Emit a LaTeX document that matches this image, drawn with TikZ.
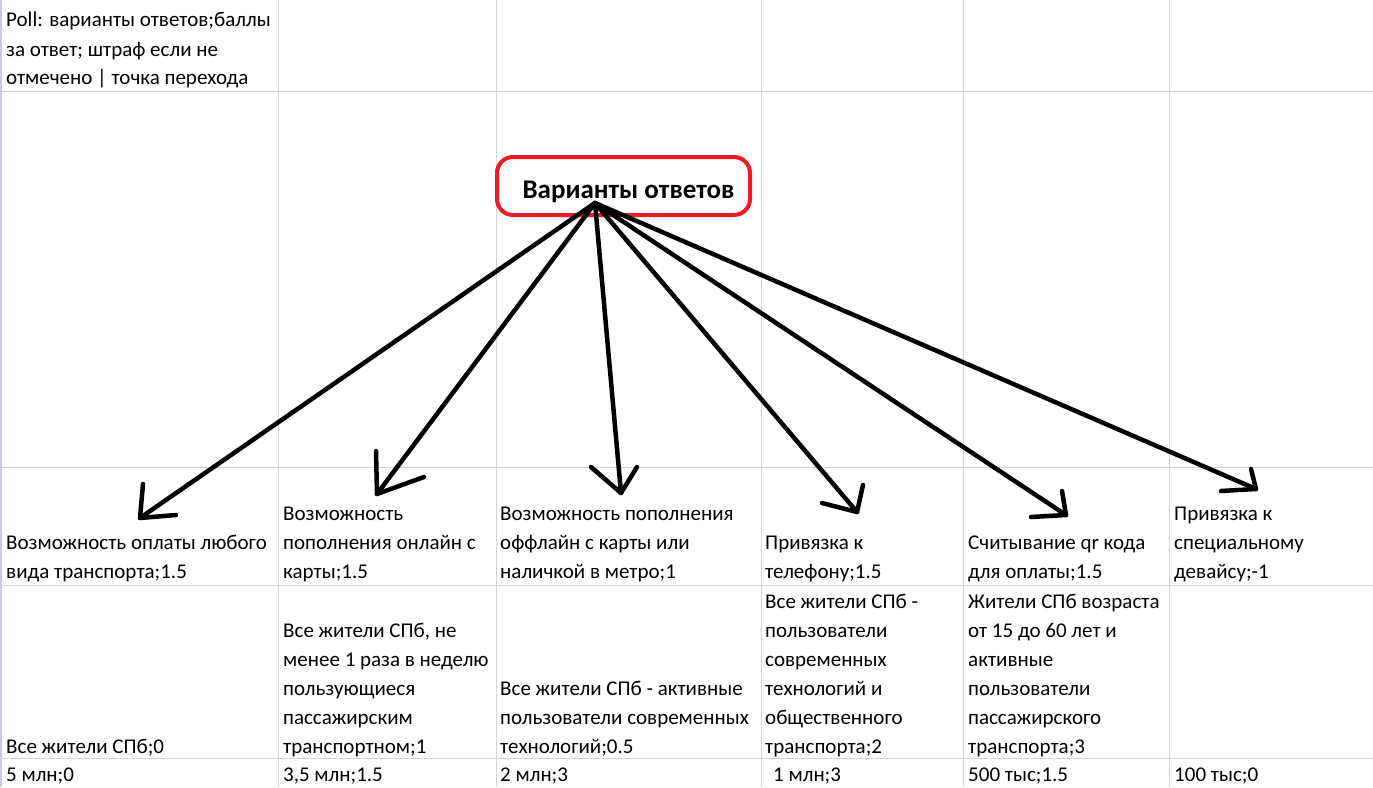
\documentclass[tikz,border=0pt]{standalone}
\usepackage{fontspec}
\setmainfont{Carlito}
\newcommand{\celltxt}[1]{\parbox[t]{300pt}{\raggedright #1}}
\begin{document}
\begin{tikzpicture}[x=1pt,y=-1pt,
  grid/.style={draw={rgb,255:red,212;green,212;blue,212}, line width=1pt},
  edgeline/.style={draw={rgb,255:red,196;green,204;blue,222}, line width=2pt},
  celltext/.style={anchor=base west, inner sep=0pt, font=\fontsize{21}{29}\selectfont},
  arrowline/.style={line width=4.5pt, line cap=round, line join=round, black},
  titlebox/.style={draw={rgb,255:red,237;green,28;blue,36}, line width=4pt, rounded corners=16pt, minimum width=253pt, minimum height=58pt, inner sep=0pt},
  titletext/.style={anchor=base, inner sep=0pt, font=\bfseries\fontsize{27}{30}\selectfont}]
\useasboundingbox[fill=white] (0,0) rectangle (1373,787);
% grid
\foreach \gx in {278,496,761,963,1169} \draw[grid] (\gx,0) -- (\gx,787);
\foreach \gy in {91,467,585,758} \draw[grid] (0,\gy) -- (1373,\gy);
\draw[edgeline] (1,0) -- (1,787);
% header cell
\node[celltext] (poll) at (6,27) {\celltxt{Poll: варианты ответов;баллы\\за ответ; штраф если не\\отмечено | точка перехода}};
% title
\node[titlebox] (title) at (623.5,186) {};
\node[titletext] (titlelbl) at (628.5,198) {Варианты ответов};
% row 3
\node[celltext] (o1) at (6,549) {\celltxt{Возможность оплаты любого\\вида транспорта;1.5}};
\node[celltext] (o2) at (283,520) {\celltxt{Возможность\\пополнения онлайн с\\карты;1.5}};
\node[celltext] (o3) at (500,520) {\celltxt{Возможность пополнения\\оффлайн с карты или\\наличкой в метро;1}};
\node[celltext] (o4) at (765,549) {\celltxt{Привязка к\\телефону;1.5}};
\node[celltext] (o5) at (968,549) {\celltxt{Считывание qr кода\\для оплаты;1.5}};
\node[celltext] (o6) at (1174,520) {\celltxt{Привязка к\\специальному\\девайсу;-1}};
% row 4
\node[celltext] (p1) at (6,753) {\celltxt{Все жители СПб;0}};
\node[celltext] (p2) at (283,637) {\celltxt{Все жители СПб, не\\менее 1 раза в неделю\\пользующиеся\\пассажирским\\транспортном;1}};
\node[celltext] (p3) at (500,695) {\celltxt{Все жители СПб - активные\\пользователи современных\\технологий;0.5}};
\node[celltext] (p4) at (765,608) {\celltxt{Все жители СПб -\\пользователи\\современных\\технологий и\\общественного\\транспорта;2}};
\node[celltext] (p5) at (968,608) {\celltxt{Жители СПб возраста\\от 15 до 60 лет и\\активные\\пользователи\\пассажирского\\транспорта;3}};
% row 5
\node[celltext] (q1) at (6,781) {5 млн;0};
\node[celltext] (q2) at (283,781) {3,5 млн;1.5};
\node[celltext] (q3) at (500,781) {2 млн;3};
\node[celltext] (q4) at (773,781) {1 млн;3};
\node[celltext] (q5) at (968,781) {500 тыс;1.5};
\node[celltext] (q6) at (1174,781) {100 тыс;0};
% arrows
\coordinate (src) at (595,203);
\coordinate (t1) at (140,518); \coordinate (h1a) at (143,484); \coordinate (h1b) at (176,515);
\coordinate (t2) at (377,494); \coordinate (h2a) at (376,451); \coordinate (h2b) at (424,477);
\coordinate (t3) at (621,493); \coordinate (h3a) at (591,467); \coordinate (h3b) at (637,467);
\coordinate (t4) at (857,512); \coordinate (h4a) at (822,503); \coordinate (h4b) at (863,485);
\coordinate (t5) at (1066,515); \coordinate (h5a) at (1031,517); \coordinate (h5b) at (1062,491);
\coordinate (t6) at (1256,489); \coordinate (h6a) at (1221,491); \coordinate (h6b) at (1251,469);
\foreach \i in {1,...,6} {
  \draw[arrowline] (src) -- (t\i);
  \draw[arrowline] (h\i a) -- (t\i) -- (h\i b);
}
\end{tikzpicture}
\end{document}
